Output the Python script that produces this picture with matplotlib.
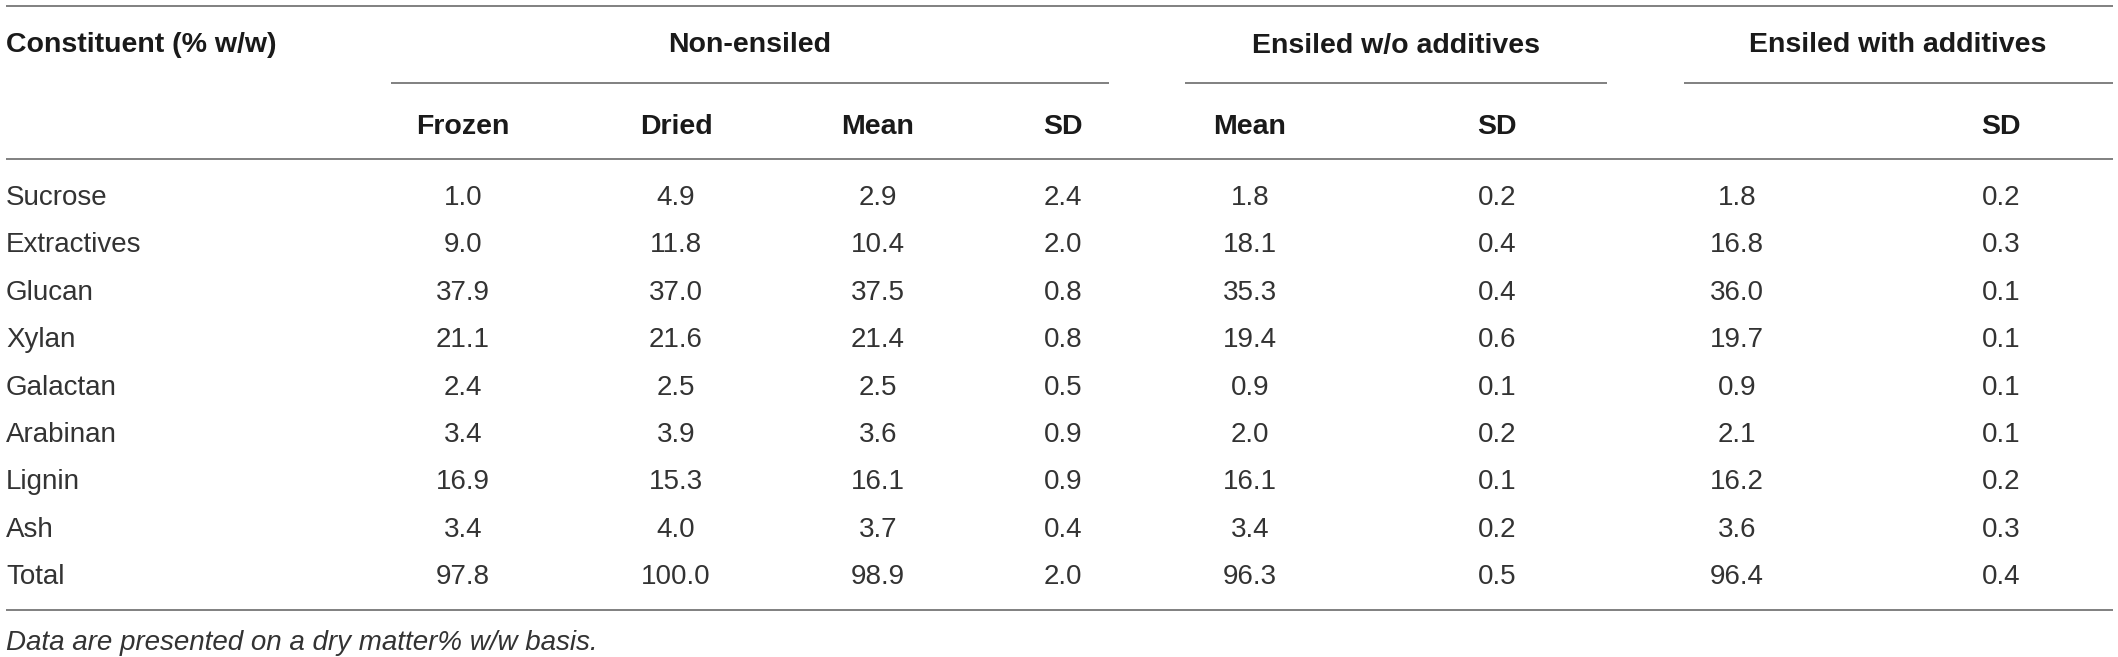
import matplotlib
matplotlib.use("Agg")
import matplotlib.pyplot as plt

plt.rcParams['font.family'] = ['Liberation Sans', 'DejaVu Sans']

# table content
constituents = ['Sucrose', 'Extractives', 'Glucan', 'Xylan', 'Galactan',
                'Arabinan', 'Lignin', 'Ash', 'Total']
groups = ['Non-ensiled', 'Ensiled w/o additives', 'Ensiled with additives']
sub_headers = ['Frozen', 'Dried', 'Mean', 'SD', 'Mean', 'SD', '', 'SD']

frozen = [1.0, 9.0, 37.9, 21.1, 2.4, 3.4, 16.9, 3.4, 97.8]
dried = [4.9, 11.8, 37.0, 21.6, 2.5, 3.9, 15.3, 4.0, 100.0]
non_mean = [2.9, 10.4, 37.5, 21.4, 2.5, 3.6, 16.1, 3.7, 98.9]
non_sd = [2.4, 2.0, 0.8, 0.8, 0.5, 0.9, 0.9, 0.4, 2.0]
wo_mean = [1.8, 18.1, 35.3, 19.4, 0.9, 2.0, 16.1, 3.4, 96.3]
wo_sd = [0.2, 0.4, 0.4, 0.6, 0.1, 0.2, 0.1, 0.2, 0.5]
with_mean = [1.8, 16.8, 36.0, 19.7, 0.9, 2.1, 16.2, 3.6, 96.4]
with_sd = [0.2, 0.3, 0.1, 0.1, 0.1, 0.1, 0.2, 0.3, 0.4]

footnote = 'Data are presented on a dry matter% w/w basis.'

columns = [frozen, dried, non_mean, non_sd, wo_mean, wo_sd, with_mean, with_sd]

# layout in pixels
W, H = 2118, 657
col_x = [463, 676, 878, 1063, 1250, 1497, 1737, 2001]
group_x = [750, 1396, 1898]
group_spans = [(391, 1109), (1185, 1607), (1684, 2113)]
row_y0, row_dy = 195, 47.4
line_col = '#808080'
head_col = '#1a1a1a'
txt_col = '#333333'

fig = plt.figure(figsize=(W / 100, H / 100), dpi=100)
ax = fig.add_axes([0, 0, 1, 1])
ax.set_xlim(0, W)
ax.set_ylim(H, 0)
ax.axis('off')

# rules
for y in (5.5, 159, 610):
    ax.plot([6, 2113], [y, y], color=line_col, lw=1.4, solid_capstyle='butt')
for x0, x1 in group_spans:
    ax.plot([x0, x1], [83, 83], color=line_col, lw=1.4, solid_capstyle='butt')

# header
ax.text(6, 52.5, 'Constituent (% w/w)', fontsize=20.5, fontweight='bold',
        color=head_col, ha='left', va='baseline')
for gx, g in zip(group_x, groups):
    ax.text(gx, 52.5, g, fontsize=20.5, fontweight='bold', color=head_col,
            ha='center', va='baseline')
for cx, s in zip(col_x, sub_headers):
    ax.text(cx, 134.5, s, fontsize=20.5, fontweight='bold', color=head_col,
            ha='center', va='baseline')

# body
for i, name in enumerate(constituents):
    yb = row_y0 + i * row_dy + 10
    ax.text(6, yb, name, fontsize=20, color=txt_col, ha='left', va='baseline')
    for cx, col in zip(col_x, columns):
        ax.text(cx, yb, f'{col[i]:.1f}', fontsize=20, color=txt_col,
                ha='center', va='baseline')

ax.text(6, 650, footnote, fontsize=20, style='italic', color=txt_col,
        ha='left', va='baseline')

fig.savefig('out.png', dpi=100)
